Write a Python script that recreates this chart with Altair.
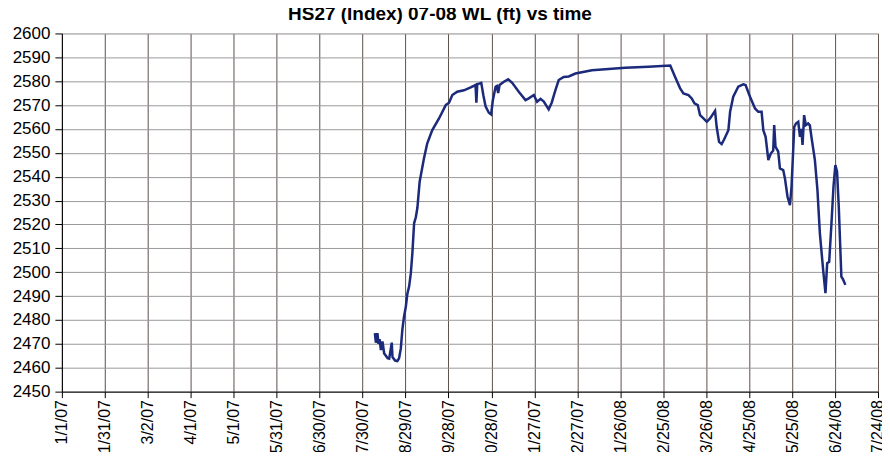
import altair as alt
import pandas as pd

# Days after 2007-01-01 and water level (ft)
day_offsets = [
    218.6, 219.3, 220.4, 221.1, 221.9, 222.8, 223.9, 225.1, 226.3, 227.5,
    228.6, 230.4, 230.9, 232.7, 234.3, 235.5, 236.7, 237.8, 239.0, 240.2,
    241.3, 242.5, 243.7, 244.8, 246.0, 247.2, 248.3, 249.9, 252.9, 255.2,
    258.7, 263.4, 268.1, 270.4, 272.7, 276.1, 280.8, 285.5, 288.9, 289.5,
    290.1, 291.3, 292.9, 294.4, 295.9, 298.2, 299.8, 301.0, 302.9, 303.8,
    304.7, 305.7, 308.7, 311.7, 314.5, 319.1, 323.8, 326.1, 329.6, 331.9,
    334.3, 336.6, 340.0, 342.1, 344.7, 347.0, 350.5, 354.0, 358.7, 370.2,
    393.5, 409.7, 424.9, 428.3, 431.8, 434.1, 437.6, 439.9, 441.8, 444.1,
    445.7, 448.1, 450.4, 452.7, 456.2, 457.3, 459.0, 460.8, 462.5, 465.5,
    466.7, 468.9, 472.4, 475.9, 477.5, 480.6, 484.1, 486.4, 488.7, 489.9,
    491.5, 493.4, 495.2, 496.8, 497.5, 498.4, 500.3, 501.5, 503.8, 505.0,
    506.8, 508.5, 509.6, 511.5, 512.7, 514.3, 515.5, 516.4, 517.3, 518.4,
    519.6, 521.2, 522.4, 523.5, 525.9, 527.7, 529.4, 531.7, 533.3, 534.5,
    535.9, 537.5, 538.9, 540.2, 541.4, 542.6, 544.4, 545.6, 547.2,
]
water_level = [
    2474.5, 2470.5, 2474.5, 2470.0, 2472.0, 2467.4, 2471.0, 2466.0, 2465.0, 2464.0,
    2463.8, 2470.5, 2464.5, 2463.0, 2462.8, 2464.0, 2468.0, 2476.0, 2481.6, 2485.5,
    2491.0, 2494.0, 2499.5, 2508.0, 2520.5, 2523.0, 2527.0, 2538.0, 2547.7, 2554.0,
    2559.5, 2564.4, 2570.0, 2571.0, 2574.2, 2575.6, 2576.2, 2577.4, 2578.4, 2571.0,
    2578.8, 2579.0, 2579.3, 2574.0, 2569.5, 2566.8, 2566.1, 2572.0, 2577.7, 2578.0,
    2575.0, 2578.4, 2579.8, 2580.8, 2579.3, 2575.6, 2572.1, 2572.8, 2574.2, 2571.4,
    2572.6, 2571.5, 2568.2, 2571.0, 2576.3, 2580.5, 2581.8, 2582.0, 2583.2, 2584.6,
    2585.6, 2586.1, 2586.6, 2581.8, 2577.0, 2574.9, 2574.2, 2572.8, 2570.7, 2570.0,
    2565.8, 2564.4, 2563.0, 2564.4, 2567.6, 2560.9, 2554.6, 2553.7, 2555.6, 2559.5,
    2567.2, 2573.5, 2577.7, 2578.7, 2578.4, 2573.5, 2568.6, 2567.2, 2567.2, 2559.5,
    2556.7, 2547.0, 2549.8, 2551.0, 2561.6, 2552.6, 2550.5, 2543.5, 2542.8, 2539.3,
    2531.6, 2528.1, 2535.8, 2560.9, 2562.3, 2563.0, 2556.7, 2560.0, 2553.3, 2565.8,
    2561.6, 2562.3, 2561.5, 2556.7, 2547.0, 2534.4, 2516.3, 2500.9, 2491.2, 2503.8,
    2504.4, 2520.5, 2535.8, 2544.9, 2542.1, 2527.4, 2498.2, 2497.0, 2494.7,
]

tick_dates = [
    "2007-01-01", "2007-01-31", "2007-03-02", "2007-04-01", "2007-05-01",
    "2007-05-31", "2007-06-30", "2007-07-30", "2007-08-29", "2007-09-28",
    "2007-10-28", "2007-11-27", "2007-12-27", "2008-01-26", "2008-02-25",
    "2008-03-26", "2008-04-25", "2008-05-25", "2008-06-24", "2008-07-24",
]
y_ticks = list(range(2450, 2601, 10))

base = pd.Timestamp("2007-01-01")
df = pd.DataFrame({
    "time": [(base + pd.to_timedelta(d, unit="D")).strftime("%Y-%m-%dT%H:%M:%SZ") for d in day_offsets],
    "wl": water_level,
})


def dt(s):
    t = pd.Timestamp(s)
    return alt.DateTime(year=t.year, month=t.month, date=t.day, utc=True)


tick_vals = [dt(s) for s in tick_dates]

chart = alt.Chart(df).mark_line(color="#1b2a7a", strokeWidth=2.5).encode(
    x=alt.X(
        "time:T",
        title=None,
        scale=alt.Scale(type="utc", domain=[tick_vals[0], tick_vals[-1]], nice=False),
        axis=alt.Axis(
            values=tick_vals,
            labelExpr="utcFormat(datum.value, '%-m/%-d/%y')",
            labelAngle=-90,
            labelFontSize=16,
            labelFont="Liberation Sans",
            labelColor="black",
            labelPadding=2,
            tickSize=6,
            tickColor="black",
            domainColor="black",
            gridColor="#5e4f4a",
            gridWidth=1,
            labelOverlap=False,
            labelFlush=False,
            labelBound=False,
        ),
    ),
    y=alt.Y(
        "wl:Q",
        title=None,
        scale=alt.Scale(domain=[2450, 2600], nice=False, zero=False),
        axis=alt.Axis(
            values=y_ticks,
            format="d",
            labelFontSize=17,
            labelFont="Liberation Sans",
            labelColor="black",
            labelPadding=5,
            tickSize=7,
            tickColor="black",
            domainColor="black",
            gridColor="#9a9a9a",
            gridWidth=1,
            labelOverlap=False,
            labelFlush=False,
        ),
    ),
).properties(
    width=818,
    height=359,
    title=alt.TitleParams(
        "HS27 (Index) 07-08  WL (ft) vs time",
        font="Liberation Sans",
        fontSize=19,
        fontWeight="bold",
        color="black",
        anchor="middle",
        dx=-30,
        offset=0,
    ),
    autosize=alt.AutoSizeParams(type="none"),
    padding={"left": 54, "top": 25, "right": 4, "bottom": 60},
).configure_view(
    fill="#e0e0e0",
    stroke="black",
    strokeWidth=1,
).configure(background="white")

chart.save("out.html", embed_options={"renderer": "svg", "actions": False})
